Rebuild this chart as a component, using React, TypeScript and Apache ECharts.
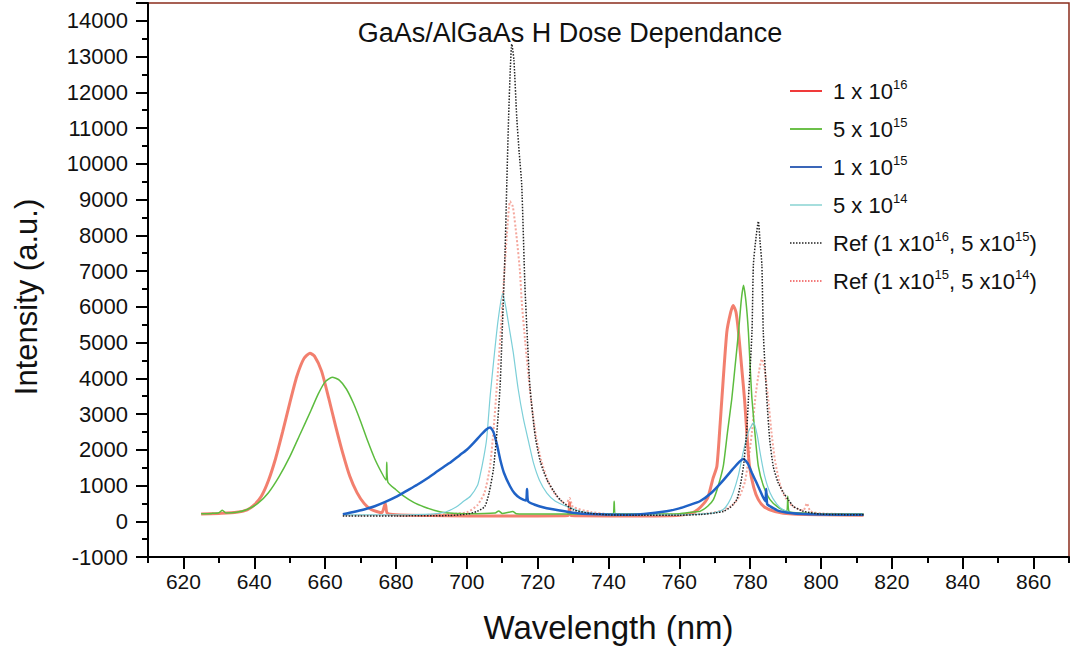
import React, { useEffect, useRef } from 'react';
import * as echarts from 'echarts';

const titleText = 'GaAs/AlGaAs H Dose Dependance';
const xAxisName = 'Wavelength (nm)';
const yAxisName = 'Intensity (a.u.)';

const legendNames = [
  '1 x 10^16',
  '5 x 10^15',
  '1 x 10^15',
  '5 x 10^14',
  'Ref (1 x10^16, 5 x10^15)',
  'Ref (1 x10^15, 5 x10^14)',
];

// [wavelength nm, intensity]
const dose1e16: [number, number][] = [
  [625, 200], [630, 220], [635, 250], [638, 320], [640, 460], [642, 700], [644, 1140], [646, 1750],
  [648, 2500], [650, 3300], [652, 4050], [654, 4550], [655.7, 4700], [657, 4620], [659, 4200],
  [661, 3450], [663, 2650], [665, 1900], [667, 1250], [669, 800], [671, 500], [673, 330], [676, 240],
  [677, 500], [677.5, 230], [680, 180], [690, 160], [700, 150], [710, 150], [720, 150], [728.6, 160],
  [729, 520], [729.4, 160], [740, 150], [750, 150], [760, 170], [764, 250], [766, 400], [768, 650],
  [769.5, 1200], [770.6, 1540], [771.5, 2700], [772, 3420], [773.4, 5290], [774.5, 5850], [775.2, 6040],
  [776, 5850], [776.7, 5290], [777.6, 4300], [778.4, 3420], [779.1, 2400], [779.8, 1540], [781, 950],
  [782.3, 605], [784, 400], [787, 275], [792, 200], [800, 180], [812, 170],
];

const dose5e15: [number, number][] = [
  [625, 210], [628, 220], [630, 240], [631, 310], [632, 230], [635, 250], [638, 330], [641, 500],
  [644, 800], [647, 1250], [650, 1800], [653, 2450], [656, 3100], [658, 3550], [660, 3900], [662, 4030],
  [664, 3950], [666, 3700], [668, 3300], [670, 2800], [672, 2250], [674, 1750], [676, 1350], [677.2, 1150],
  [677.4, 1650], [677.7, 1100], [680, 880], [682, 720], [685, 530], [688, 400], [691, 300], [694, 240],
  [700, 210], [708, 230], [709, 290], [710, 220], [713, 270], [714, 210], [720, 200], [730, 200],
  [741.2, 200], [741.6, 560], [742, 200], [750, 200], [760, 210], [764, 260], [765.8, 275], [768, 420],
  [769.6, 605], [771, 1000], [772.4, 1540], [773.6, 2500], [774.8, 3420], [775.8, 4400], [776.7, 5290],
  [777.5, 6200], [778.1, 6600], [778.8, 6150], [779.5, 5290], [780, 4300], [780.5, 3420], [781.4, 2400],
  [782.3, 1540], [783.7, 1000], [785.6, 605], [788, 380], [790.3, 275], [790.6, 700], [791, 270],
  [795, 230], [800, 210], [812, 200],
];

const dose1e15: [number, number][] = [
  [665, 200], [668, 260], [671, 330], [674, 420], [677, 540], [680, 680], [683, 850], [686, 1020],
  [689, 1210], [692, 1420], [695, 1620], [698, 1850], [700, 2000], [702, 2200], [704, 2420],
  [705.6, 2575], [706.6, 2620], [707.5, 2500], [708.5, 2150], [709.5, 1700], [710.5, 1350], [712.2, 980],
  [713.5, 780], [715, 650], [716.7, 580], [717, 900], [717.3, 560], [719, 470], [722, 380], [726.3, 300],
  [730, 240], [735, 200], [745, 185], [750, 200], [756.4, 277], [760, 360], [763, 460], [765.8, 560],
  [769, 790], [772, 1100], [775, 1450], [777, 1670], [778.1, 1740], [779.3, 1620], [780.5, 1350],
  [781.8, 1075], [783.5, 700], [784.3, 560], [784.5, 900], [784.8, 480], [785.6, 420], [788, 290],
  [791.3, 230], [795, 200], [800, 190], [812, 180],
];

const dose5e14: [number, number][] = [
  [665, 180], [680, 180], [690, 200], [694, 260], [697, 400], [699, 550], [701, 700], [703, 1000],
  [703.7, 1260], [704.8, 1800], [705.6, 2300], [706.6, 3510], [707.7, 4600], [708.8, 5600], [710.1, 6370],
  [711, 6000], [712, 5400], [713.1, 4730], [714.5, 3700], [716, 2855], [717.5, 2200], [718.8, 1640],
  [720.5, 1150], [722.6, 790], [725, 560], [728.2, 416], [732, 280], [738, 200], [750, 180], [760, 180],
  [766, 200], [770, 240], [772.3, 320], [773.8, 500], [775.2, 800], [776.7, 1300], [778, 1920],
  [779.5, 2500], [781, 2760], [782, 2400], [782.8, 1920], [784, 1300], [785.6, 800], [787.5, 480],
  [789.3, 320], [792, 230], [800, 190], [812, 180],
];

const ref1e16: [number, number][] = [
  [665, 150], [680, 150], [695, 160], [700, 200], [703, 280], [705.1, 416], [706.3, 800], [707.5, 1450],
  [708.5, 2500], [709.4, 3790], [710.1, 5600], [710.8, 7550], [711.3, 9500], [711.8, 11300], [712.3, 12700],
  [712.7, 13350], [713.3, 12900], [714.1, 11290], [714.8, 10300], [715.5, 9420], [716.4, 6600],
  [717.1, 5100], [717.8, 3790], [719.3, 2385], [720.8, 1650], [722.6, 1167], [724.5, 850], [726.3, 605],
  [730, 323], [735, 220], [740, 180], [750, 170], [760, 170], [766, 190], [770, 230], [772.4, 275],
  [774.5, 400], [776.2, 605], [777.2, 1000], [778.1, 1540], [779, 2500], [779.5, 3420], [780.5, 5290],
  [780.9, 7170], [781.6, 7900], [782.3, 8390], [782.8, 7800], [783.3, 7170], [783.7, 5290], [784.7, 3420],
  [785.5, 2300], [786.5, 1540], [787.8, 1100], [789.4, 793], [790.8, 600], [792.2, 416], [795, 280],
  [800, 200], [812, 180],
];

const ref1e15: [number, number][] = [
  [665, 170], [690, 180], [700, 250], [703, 450], [705, 800], [706.5, 1500], [707.5, 2500], [708.5, 3800],
  [709.5, 5200], [710.5, 6800], [711.3, 8000], [712.2, 8950], [713, 8800], [714, 8000], [715, 7000],
  [715.5, 6150], [716.5, 5000], [718, 3500], [719.5, 2400], [721, 1700], [723, 1100], [725, 750],
  [728, 480], [729, 650], [730, 400], [735, 260], [740, 200], [750, 190], [760, 190], [768, 220],
  [772, 300], [775, 450], [777, 700], [778.5, 1100], [779.5, 1700], [780.5, 2500], [781.5, 3500],
  [782.5, 4200], [783.3, 4540], [784, 4300], [785, 3500], [786, 2500], [787, 1700], [788.5, 1000],
  [790, 650], [792, 420], [795, 300], [796, 500], [797, 280], [800, 220], [812, 190],
];

const seriesData = [dose1e16, dose5e15, dose1e15, dose5e14, ref1e16, ref1e15];
const lineColors = ['rgba(240,105,85,0.85)', '#5cbc3e', '#1f62c6', '#7ccfd8', '#222222', 'rgba(240,130,115,0.7)'];
const lineWidths = [3, 1.5, 2.5, 1.2, 1.5, 2];
const lineTypes = ['solid', 'solid', 'solid', 'solid', 'dotted', 'dotted'];
const legendColors = ['#f03a3a', '#6cc04a', '#3a66b8', '#a6dedd', '#222222', '#f05050'];

function richLegend(name: string): string {
  const parts = name.split(/\^(\d+)/);
  let out = '{g| }';
  parts.forEach((p, i) => {
    if (i % 2 === 1) out += `{s|${p}}`;
    else if (p) out += `{t|${p}}`;
  });
  return out;
}

export default function App() {
  const ref = useRef<HTMLDivElement>(null);
  useEffect(() => {
    const chart = echarts.init(ref.current!, null, { renderer: 'svg' });
    const gridLeft = 148;
    const gridRight = 3;
    const gridTop = 3;
    const gridBottom = 96;
    const chartW = 1072;
    const xMin = 610;
    const xMax = 870;
    const pxPerNm = (chartW - gridLeft - gridRight) / (xMax - xMin);
    const font = 'Liberation Sans, Arial, sans-serif';

    const option: any = {
      animation: false,
      backgroundColor: '#ffffff',
      title: {
        text: titleText,
        left: 565,
        textAlign: 'center',
        top: 14,
        textStyle: { fontFamily: font, fontSize: 27, fontWeight: 'normal', color: '#111' },
      },
      legend: {
        orient: 'vertical',
        left: 784,
        top: 73,
        itemGap: 14,
        itemWidth: 32,
        itemHeight: 14,
        data: legendNames.map((n, i) => ({
          name: n,
          lineStyle: { color: legendColors[i], width: i < 4 ? 2 : 1.5, type: lineTypes[i] },
          itemStyle: { color: legendColors[i], opacity: 0, borderWidth: 0 },
        })),
        formatter: (name: string) => richLegend(name),
        textStyle: {
          rich: {
            g: { width: 6, fontSize: 10 },
            t: { fontFamily: font, fontSize: 22, color: '#111', lineHeight: 26 },
            s: { fontFamily: font, fontSize: 13, color: '#111', lineHeight: 13, verticalAlign: 'top' },
          },
        },
      },
      grid: [
        {
          left: gridLeft, right: gridRight, top: gridTop, bottom: gridBottom,
          show: true, borderColor: '#8a2c1c', borderWidth: 1.5, backgroundColor: '#fff',
        },
        {
          left: gridLeft + (620 - xMin) * pxPerNm,
          right: gridRight + (xMax - 860) * pxPerNm,
          top: gridTop, bottom: gridBottom, show: false,
        },
      ],
      xAxis: [
        {
          gridIndex: 0, type: 'value', min: xMin, max: xMax, interval: 10,
          axisLine: { show: true, onZero: false, lineStyle: { color: '#000', width: 2 } },
          axisTick: { show: true, length: 6, lineStyle: { color: '#000', width: 2 } },
          splitLine: { show: false },
          axisLabel: {
            formatter: (v: number) => (v % 20 === 0 ? String(v) : ''),
            fontFamily: font, fontSize: 21, color: '#111', margin: 14,
          },
          name: xAxisName, nameLocation: 'middle', nameGap: 54,
          nameTextStyle: { fontFamily: font, fontSize: 33, color: '#111' },
        },
        {
          gridIndex: 1, type: 'value', min: 620, max: 860, interval: 20,
          axisLine: { show: false, onZero: false },
          axisTick: { show: true, length: 12, lineStyle: { color: '#000', width: 2 } },
          axisLabel: { show: false },
          splitLine: { show: false },
        },
      ],
      yAxis: [
        {
          gridIndex: 0, type: 'value', min: -1000, max: 14500, interval: 500,
          axisLine: { show: true, onZero: false, lineStyle: { color: '#000', width: 2 } },
          axisTick: { show: true, length: 6, lineStyle: { color: '#000', width: 2 } },
          splitLine: { show: false },
          axisLabel: {
            formatter: (v: number) => (v % 1000 === 0 ? String(v) : ''),
            fontFamily: font, fontSize: 22, color: '#111', margin: 20,
          },
          name: yAxisName, nameLocation: 'middle', nameGap: 106,
          nameTextStyle: { fontFamily: font, fontSize: 31, color: '#111', padding: [0, 34, 0, 0] },
        },
        {
          gridIndex: 0, type: 'value', min: -1000, max: 14500, interval: 1000, position: 'left',
          axisLine: { show: false, onZero: false },
          axisTick: { show: true, length: 12, lineStyle: { color: '#000', width: 2 } },
          axisLabel: { show: false },
          splitLine: { show: false },
        },
        {
          gridIndex: 1, type: 'value', min: -1000, max: 14500, show: false,
        },
      ],
      series: seriesData.map((d, i) => ({
        name: legendNames[i],
        type: 'line',
        xAxisIndex: 0,
        yAxisIndex: 0,
        data: d,
        symbol: 'none',
        smooth: 0.2,
        lineStyle: { color: lineColors[i], width: lineWidths[i], type: lineTypes[i] },
        itemStyle: { color: lineColors[i] },
        z: [2, 3, 5, 4, 6, 1][i],
      })),
    };
    chart.setOption(option);
    return () => chart.dispose();
  }, []);
  return (
    <div
      ref={ref}
      style={{ position: 'fixed', left: 0, top: 0, width: 1072, height: 653, background: '#fff' }}
    />
  );
}
